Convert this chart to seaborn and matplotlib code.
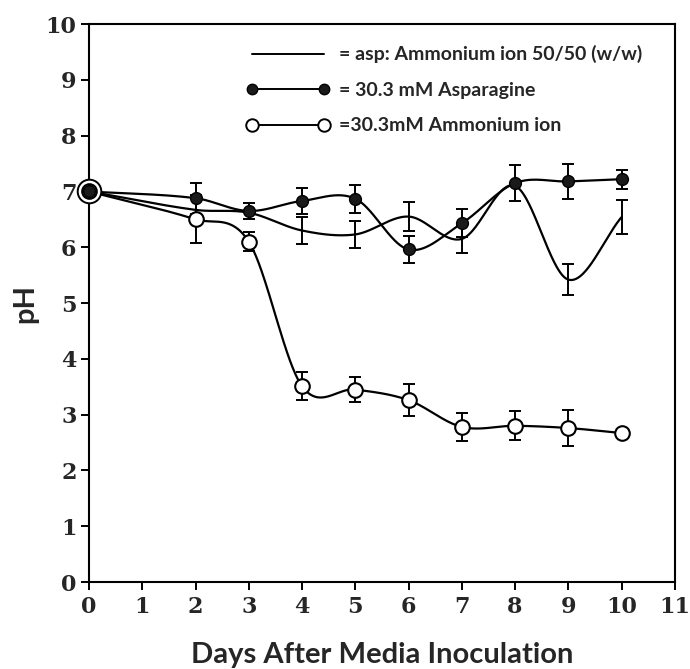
"""pH of culture media over the days after inoculation, three nitrogen sources."""
import matplotlib

matplotlib.use("Agg")

import matplotlib.pyplot as plt  # noqa: E402
import numpy as np  # noqa: E402
import seaborn as sns  # noqa: E402
from matplotlib.lines import Line2D  # noqa: E402

# ---------------------------------------------------------------------------
# Data
# ---------------------------------------------------------------------------
days = [0, 2, 3, 4, 5, 6, 7, 8, 9, 10]

mix_ph = [7.0, 6.67, 6.62, 6.3, 6.23, 6.55, 6.15, 7.1, 5.42, 6.54]
mix_err = [0, 0, 0, 0.25, 0.24, 0.26, 0.25, 0, 0.28, 0.30]

asn_ph = [7.0, 6.88, 6.65, 6.83, 6.87, 5.96, 6.43, 7.15, 7.18, 7.22]
asn_err = [0, 0.28, 0.15, 0.23, 0.25, 0.24, 0.25, 0.32, 0.31, 0.17]

nh4_ph = [7.0, 6.5, 6.1, 3.51, 3.45, 3.26, 2.78, 2.8, 2.76, 2.67]
nh4_err = [0, 0.43, 0.17, 0.25, 0.23, 0.29, 0.25, 0.26, 0.32, 0]

labels = [
    "= asp: Ammonium ion 50/50 (w/w)",
    "= 30.3 mM Asparagine",
    "=30.3mM Ammonium ion",
]
x_ticks = list(range(0, 12))
y_ticks = list(range(0, 11))

LABEL_FONT = "Lato"
TICK_FONT = "DejaVu Serif"


def smooth(x, y, n=600):
    """Catmull-Rom style cubic Hermite curve through the points (drawing only)."""
    x = np.asarray(x, float)
    y = np.asarray(y, float)
    k = len(x)
    m = np.empty(k)
    m[0] = (y[1] - y[0]) / (x[1] - x[0])
    m[-1] = (y[-1] - y[-2]) / (x[-1] - x[-2])
    m[1:-1] = (y[2:] - y[:-2]) / (x[2:] - x[:-2])
    xs = np.linspace(x[0], x[-1], n)
    idx = np.clip(np.searchsorted(x, xs, side="right") - 1, 0, k - 2)
    h = x[idx + 1] - x[idx]
    t = (xs - x[idx]) / h
    h00 = 2 * t**3 - 3 * t**2 + 1
    h10 = t**3 - 2 * t**2 + t
    h01 = -2 * t**3 + 3 * t**2
    h11 = t**3 - t**2
    ys = h00 * y[idx] + h10 * h * m[idx] + h01 * y[idx + 1] + h11 * h * m[idx + 1]
    return xs, ys


def draw_errors(ax, x, y, err):
    keep = [i for i, e in enumerate(err) if e > 0]
    ax.errorbar(
        [x[i] for i in keep],
        [y[i] for i in keep],
        yerr=[err[i] for i in keep],
        fmt="none",
        ecolor="black",
        elinewidth=1.4,
        capsize=4.5,
        capthick=1.4,
        zorder=2,
    )


sns.set_style("ticks")
plt.rcParams["font.family"] = [LABEL_FONT, "DejaVu Sans"]

fig = plt.figure(figsize=(6.9, 6.69), dpi=100)
ax = fig.add_axes([0.129, 0.130, 0.849, 0.834])

for ph in (mix_ph, asn_ph, nh4_ph):
    xs, ys = smooth(days, ph)
    sns.lineplot(x=xs, y=ys, ax=ax, color="black", linewidth=1.6, sort=False,
                 zorder=3)

draw_errors(ax, days, mix_ph, mix_err)
draw_errors(ax, days, asn_ph, asn_err)
draw_errors(ax, days, nh4_ph, nh4_err)

# open circles (ammonium ion), first one drawn with an outer ring
ax.plot(days[:1], nh4_ph[:1], "o", ms=17, mfc="white", mec="black", mew=1.4,
        zorder=4, clip_on=False)
ax.plot(days, nh4_ph, "o", ms=10.5, mfc="white", mec="black", mew=1.5,
        zorder=5, clip_on=False)
# filled circles (asparagine)
ax.plot(days, asn_ph, "o", ms=8.5, mfc="#1a1a1a", mec="black", mew=1.0,
        zorder=6, clip_on=False)

ax.set_xlim(0, 11)
ax.set_ylim(0, 10)
ax.set_xticks(x_ticks)
ax.set_yticks(y_ticks)
for lab in ax.get_xticklabels() + ax.get_yticklabels():
    lab.set_fontfamily(TICK_FONT)
    lab.set_fontweight("bold")
    lab.set_fontsize(16)
ax.tick_params(axis="both", direction="out", length=6, width=1.4,
               color="black")
ax.tick_params(axis="x", pad=4)
ax.tick_params(axis="y", pad=3)
for side in ax.spines.values():
    side.set_linewidth(1.5)
    side.set_color("black")

ax.set_xlabel("Days After Media Inoculation", fontsize=21, fontweight="bold",
              labelpad=17)
ax.set_ylabel("pH", fontsize=21, fontweight="bold", labelpad=5)

handles = [
    Line2D([], [], color="black", linewidth=1.4),
    Line2D([], [], color="black", linewidth=1.4, marker="o", ms=7.5,
           mfc="#1a1a1a", mec="black"),
    Line2D([], [], color="black", linewidth=1.4, marker="o", ms=9,
           mfc="white", mec="black", mew=1.4),
]
ax.legend(
    handles,
    labels,
    loc="upper left",
    bbox_to_anchor=(0.268, 0.962),
    frameon=False,
    numpoints=2,
    handlelength=4.3,
    handletextpad=0.5,
    labelspacing=0.95,
    borderpad=0,
    borderaxespad=0,
    prop={"family": LABEL_FONT, "weight": "bold", "size": 14},
)

fig.savefig("out.png", dpi=100)
plt.close(fig)
